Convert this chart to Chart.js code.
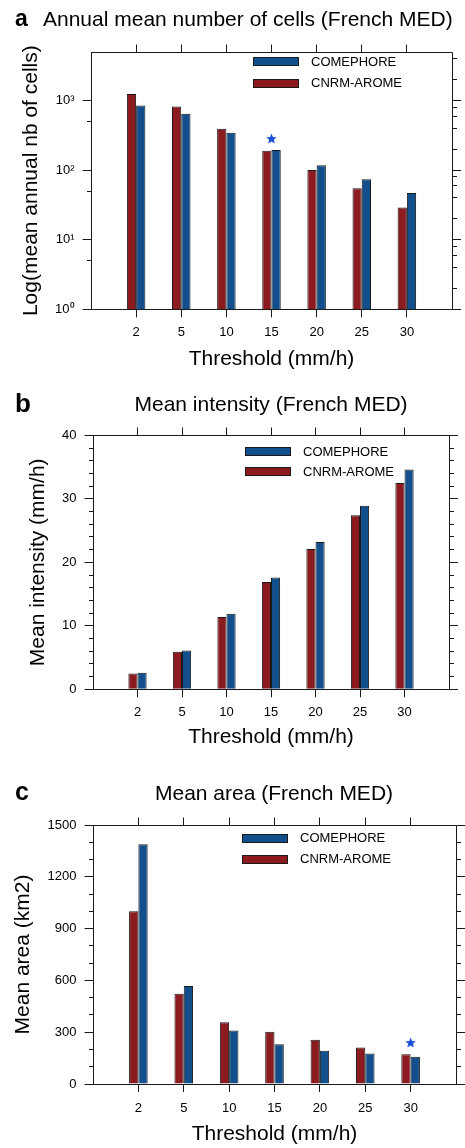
<!DOCTYPE html>
<html><head><meta charset="utf-8">
<script src="https://cdn.jsdelivr.net/npm/chart.js@4.4.1/dist/chart.umd.min.js"></script>
<style>
html,body{margin:0;padding:0;background:#fff;}
body{width:465px;height:1148px;position:relative;overflow:hidden;}
canvas{position:absolute;left:0;}
</style></head><body>
<canvas id="ca" width="465" height="380" style="top:0px"></canvas>
<canvas id="cb" width="465" height="380" style="top:380px"></canvas>
<canvas id="cc" width="465" height="388" style="top:760px"></canvas>
<script>
// ---------- data ----------
const thresholds = ['2', '5', '10', '15', '20', '25', '30'];
const seriesLabels = ['CNRM-AROME', 'COMEPHORE'];

// (a) annual mean number of cells
const cellsArome     = [1240, 820, 395, 190, 101, 55, 29];
const cellsComephore = [850, 645, 345, 195, 118, 74, 47];
const cellsSignif    = [null, null, null, 285, null, null, null];
const cellsTicks      = [1, 10, 100, 1000];
const cellsTickLabels = ['10\u2070', '10\u00b9', '10\u00b2', '10\u00b3'];
const cellsMinorLeft  = [5, 50, 500];
const cellsMinorRight = [2, 4, 6, 8, 20, 40, 60, 80, 200, 400, 600, 800, 2000, 4000];

// (b) mean intensity
const intensityArome     = [2.5, 5.9, 11.4, 16.9, 22.1, 27.4, 32.5];
const intensityComephore = [2.6, 6.1, 11.9, 17.6, 23.2, 28.9, 34.6];
const intensityTicks      = [0, 10, 20, 30, 40];
const intensityTickLabels = ['0', '10', '20', '30', '40'];
const intensityMinor      = [2, 4, 6, 8, 12, 14, 16, 18, 22, 24, 26, 28, 32, 34, 36, 38];

// (c) mean area
const areaArome     = [1000, 522, 358, 302, 256, 211, 172];
const areaComephore = [1388, 567, 310, 230, 192, 176, 158];
const areaSignif    = [null, null, null, null, null, null, 240];
const areaTicks      = [0, 300, 600, 900, 1200, 1500];
const areaTickLabels = ['0', '300', '600', '900', '1200', '1500'];
const areaMinor      = [100, 200, 400, 500, 700, 800, 1000, 1100, 1300, 1400];

// ---------- styles ----------
const FONT = '"Liberation Sans", Arial, Helvetica, sans-serif';
const RED = '#8c1b1f', BLUE = '#134f8c', STAR = '#1d50d8', INK = '#1a1a1a';
Chart.defaults.font.family = FONT;
Chart.defaults.color = '#000';

function makeStar(r) {
  const s = Math.ceil(r * 2 + 2);
  const c = document.createElement('canvas');
  c.width = s; c.height = s;
  const g = c.getContext('2d');
  g.fillStyle = STAR;
  g.beginPath();
  for (let i = 0; i < 10; i++) {
    const rr = i % 2 ? r * 0.45 : r;
    const an = -Math.PI / 2 + i * Math.PI / 5;
    g.lineTo(s / 2 + rr * Math.cos(an), s / 2 + rr * Math.sin(an) + 0.5);
  }
  g.closePath(); g.fill();
  return c;
}
const starImg = makeStar(5.5);

const pad = arr => [null, ...arr, null];
const px = v => Math.round(v + 0.5) - 0.5;

const framePlugin = {
  id: 'frame',
  afterDraw(chart, args, o) {
    const {ctx, chartArea: a, scales: {x, y}} = chart;
    ctx.save();
    ctx.strokeStyle = INK; ctx.lineWidth = 1;
    const L = px(a.left), R = px(a.right), T = px(a.top), B = px(a.bottom);
    ctx.beginPath();
    ctx.moveTo(L, T); ctx.lineTo(R, T); ctx.lineTo(R, B);
    // top ticks at categories
    x.ticks.forEach(t => {
      const p = px(x.getPixelForValue(t.value));
      ctx.moveTo(p, T); ctx.lineTo(p, T - 8);
    });
    // right major ticks
    y.ticks.forEach(t => {
      const p = px(y.getPixelForValue(t.value));
      ctx.moveTo(R, p); ctx.lineTo(R + 8.5, p);
    });
    (o.minorLeft || []).forEach(v => {
      const p = px(y.getPixelForValue(v));
      ctx.moveTo(L - 4.5, p); ctx.lineTo(L, p);
    });
    (o.minorRight || []).forEach(v => {
      const p = px(y.getPixelForValue(v));
      ctx.moveTo(R, p); ctx.lineTo(R + 4.5, p);
    });
    ctx.stroke();

    // legend (reverse order: COMEPHORE first)
    const bars = chart.data.datasets.filter(d => d.type !== 'line').slice().reverse();
    ctx.font = '13px ' + FONT;
    ctx.textBaseline = 'middle';
    ctx.textAlign = 'left';
    bars.forEach((d, i) => {
      const cy = o.legY + i * o.legDy;
      ctx.fillStyle = d.backgroundColor;
      ctx.fillRect(o.legX, cy - 4, 45, 8);
      ctx.strokeStyle = INK;
      ctx.strokeRect(px(o.legX), px(cy - 4), 45, 8);
      ctx.fillStyle = '#000';
      ctx.fillText(d.label, o.legX + 58, cy + 0.5);
    });

    // panel letter and title
    ctx.textBaseline = 'alphabetic';
    ctx.fillStyle = '#000';
    ctx.font = 'bold ' + o.letterSize + 'px ' + FONT;
    ctx.fillText(o.letter, o.letterX, o.letterY);
    ctx.font = '21px ' + FONT;
    ctx.textAlign = o.titleAlign;
    ctx.fillText(o.title, o.titleX, o.titleY);
    ctx.restore();
  }
};

function makePanel(id, p) {
  const datasets = [
    {label: seriesLabels[0], data: pad(p.arome), backgroundColor: RED, borderColor: INK, borderWidth: 1, order: 2},
    {label: seriesLabels[1], data: pad(p.comephore), backgroundColor: BLUE, borderColor: INK, borderWidth: 1, order: 2}
  ];
  if (p.signif) {
    datasets.push({type: 'line', label: 'signif', data: pad(p.signif), showLine: false,
      pointStyle: starImg, pointRadius: 5, borderWidth: 0, order: 1});
  }
  const H = p.canvasH;
  return new Chart(document.getElementById(id), {
    type: 'bar',
    data: {labels: ['', ...thresholds, ''], datasets},
    plugins: [framePlugin],
    options: {
      responsive: false,
      animation: false,
      events: [],
      layout: {autoPadding: false, padding: {left: 0, top: p.top, right: 465 - p.right, bottom: 0}},
      datasets: {bar: {categoryPercentage: 0.41, barPercentage: 1.0, grouped: true}},
      plugins: {
        legend: {display: false}, tooltip: {enabled: false}, title: {display: false},
        frame: p.frame
      },
      scales: {
        x: {
          type: 'category',
          offset: false,
          afterBuildTicks: s => { s.ticks = s.ticks.filter(t => t.value > 0 && t.value < thresholds.length + 1); },
          afterFit: s => { s.height = H - p.bottom; },
          grid: {offset: false, drawOnChartArea: false, drawTicks: true, tickLength: 8, color: INK},
          border: {display: true, color: INK, width: 1},
          ticks: {font: {size: 13}, padding: p.xTickPad, maxRotation: 0, autoSkip: false, color: '#000'},
          title: {display: true, text: 'Threshold (mm/h)', font: {size: 21, lineHeight: 1}, color: '#000',
                  padding: {top: 0, bottom: p.xTitlePad}}
        },
        y: {
          type: p.log ? 'logarithmic' : 'linear',
          min: p.min, max: p.max,
          afterBuildTicks: s => { s.ticks = p.ticks.map(v => ({value: v})); },
          afterFit: s => { s.width = p.left; },
          grid: {drawOnChartArea: false, drawTicks: true, tickLength: 8.5, color: INK},
          border: {display: true, color: INK, width: 1},
          ticks: {font: {size: 13}, padding: 8, color: '#000',
                  callback: v => p.tickLabels[p.ticks.indexOf(v)]},
          title: {display: true, text: p.yTitle, font: {size: 21, lineHeight: 1}, color: '#000',
                  padding: {top: p.yTitlePad, bottom: 0}}
        }
      }
    }
  });
}

makePanel('ca', {
  arome: cellsArome, comephore: cellsComephore, signif: cellsSignif,
  log: true, min: 1, max: 5000, ticks: cellsTicks, tickLabels: cellsTickLabels,
  yTitle: 'Log(mean annual nb of cells)',
  canvasH: 380, left: 91, right: 452, top: 52, bottom: 309.3,
  xTickPad: 7.4, xTitlePad: 10.1, yTitlePad: 21,
  frame: {minorLeft: cellsMinorLeft, minorRight: cellsMinorRight,
          legX: 253, legY: 61.5, legDy: 21.5,
          letter: 'a', letterSize: 23, letterX: 15, letterY: 26,
          title: 'Annual mean number of cells (French MED)', titleAlign: 'left', titleX: 43, titleY: 26}
});

makePanel('cb', {
  arome: intensityArome, comephore: intensityComephore, signif: null,
  log: false, min: 0, max: 40, ticks: intensityTicks, tickLabels: intensityTickLabels,
  yTitle: 'Mean intensity (mm/h)',
  canvasH: 380, left: 93, right: 449, top: 55.3, bottom: 309.3,
  xTickPad: 7.1, xTitlePad: 11.8, yTitlePad: 27.7,
  frame: {minorLeft: intensityMinor, minorRight: intensityMinor,
          legX: 245, legY: 71.7, legDy: 20,
          letter: 'b', letterSize: 26, letterX: 15, letterY: 31.7,
          title: 'Mean intensity (French MED)', titleAlign: 'center', titleX: 271, titleY: 30.7}
});

makePanel('cc', {
  arome: areaArome, comephore: areaComephore, signif: areaSignif,
  log: false, min: 0, max: 1500, ticks: areaTicks, tickLabels: areaTickLabels,
  yTitle: 'Mean area (km2)',
  canvasH: 388, left: 93, right: 456, top: 65, bottom: 324,
  xTickPad: 8.4, xTitlePad: 3.1, yTitlePad: 12.7,
  frame: {minorLeft: areaMinor, minorRight: areaMinor,
          legX: 242, legY: 78, legDy: 21,
          letter: 'c', letterSize: 25, letterX: 15, letterY: 40,
          title: 'Mean area (French MED)', titleAlign: 'center', titleX: 274, titleY: 40}
});
</script>
</body></html>
